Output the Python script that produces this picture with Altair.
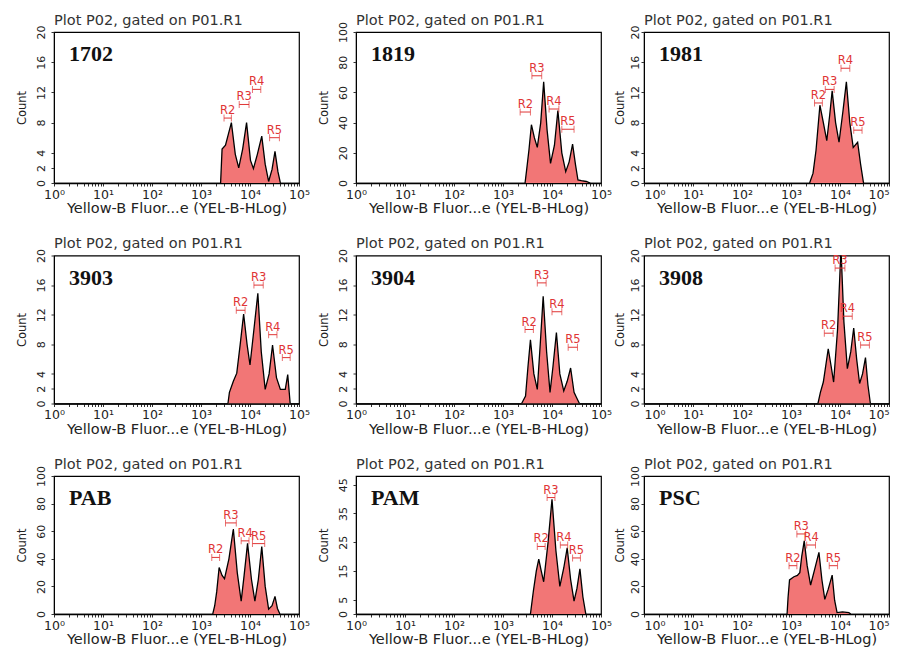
import altair as alt
import pandas as pd

NAMES = ["1702", "1819", "1981", "3903", "3904", "3908", "PAB", "PAM", "PSC"]
YMAX = [20, 100, 20, 20, 20, 20, 100, 48, 100]
YT20 = [0, 2, 4, 8, 12, 16, 20]
YT100 = [0, 20, 40, 60, 80, 100]
YT45 = [0, 5, 15, 25, 35, 45]
YTICKS = [YT20, YT100, YT20, YT20, YT20, YT20, YT100, YT45, YT100]

# log10 of fluorescence / counts
L_1702 = [3.40, 3.43, 3.50, 3.56, 3.62, 3.70, 3.77, 3.85, 3.93, 4.01, 4.07, 4.15, 4.24, 4.31, 4.38, 4.45, 4.51, 4.57, 4.62]
C_1702 = [0, 4.5, 5.0, 6.5, 8.0, 3.8, 2.0, 4.5, 8.0, 3.0, 1.9, 3.8, 6.2, 2.5, 0.2, 1.8, 4.2, 1.5, 0]
L_1819 = [3.45, 3.48, 3.53, 3.58, 3.64, 3.70, 3.77, 3.83, 3.90, 3.97, 4.05, 4.12, 4.20, 4.28, 4.35, 4.42, 4.48, 4.53, 4.60, 4.70, 4.78]
C_1819 = [0, 8, 22, 38.6, 30, 23.6, 40, 67, 35, 13, 25, 48, 20, 7.5, 14, 25.7, 12, 2, 1.5, 1, 0]
L_1981 = [3.38, 3.45, 3.51, 3.59, 3.66, 3.73, 3.79, 3.84, 3.91, 3.98, 4.06, 4.13, 4.20, 4.27, 4.36, 4.42, 4.48]
C_1981 = [0, 1.3, 4.3, 10.3, 8, 5.6, 9, 12.2, 8, 5.4, 9.5, 13.4, 8, 4.7, 5.4, 2.5, 0]
L_3903 = [3.55, 3.58, 3.66, 3.73, 3.80, 3.87, 3.94, 4.00, 4.08, 4.16, 4.23, 4.31, 4.39, 4.46, 4.54, 4.62, 4.72, 4.77, 4.82]
C_3903 = [0, 1.5, 3.0, 4.1, 8, 12.1, 8, 5.2, 10, 14.9, 7, 1.9, 4, 7.9, 3.5, 1.9, 1.9, 3.9, 0]
L_3904 = [3.38, 3.46, 3.51, 3.56, 3.63, 3.70, 3.76, 3.82, 3.89, 3.96, 4.02, 4.09, 4.16, 4.24, 4.31, 4.38, 4.45, 4.50, 4.56]
C_3904 = [0, 1.0, 5, 8.6, 4, 1.9, 8, 14.5, 7, 1.5, 5, 9.6, 4, 1.7, 3, 4.8, 1.5, 0.8, 0]
L_3908 = [3.55, 3.60, 3.66, 3.76, 3.82, 3.87, 3.95, 4.02, 4.08, 4.15, 4.22, 4.28, 4.34, 4.40, 4.46, 4.52, 4.57, 4.62]
C_3908 = [0, 1.5, 2.9, 7.4, 5, 2.9, 10, 21, 11, 4.7, 7, 10.2, 6, 2.7, 4, 6.2, 2.5, 0]
L_PAB = [3.24, 3.28, 3.32, 3.37, 3.43, 3.48, 3.57, 3.66, 3.74, 3.82, 3.88, 3.95, 4.03, 4.10, 4.17, 4.24, 4.31, 4.38, 4.45, 4.51, 4.56, 4.61]
C_PAB = [0, 6, 16, 33.7, 28, 25.6, 40, 61.6, 30, 9.3, 28, 51.2, 25, 9.3, 25, 48.8, 20, 3.5, 6, 12.8, 4, 0]
L_PAM = [3.56, 3.62, 3.68, 3.73, 3.78, 3.83, 3.92, 4.00, 4.08, 4.16, 4.24, 4.31, 4.38, 4.45, 4.51, 4.57, 4.63, 4.69]
C_PAM = [0, 8, 15, 19.1, 15, 11.2, 25, 39.9, 22, 9.6, 16, 23, 12, 4.5, 9, 15.7, 6, 0]
L_PSC = [2.92, 2.94, 2.97, 3.06, 3.13, 3.18, 3.22, 3.27, 3.33, 3.40, 3.48, 3.57, 3.63, 3.69, 3.76, 3.84, 3.89, 3.94, 4.05, 4.18, 4.22]
C_PSC = [0, 12, 24.7, 27, 28, 30, 42, 53, 35, 21, 32, 44.7, 25, 10.6, 18, 28.2, 10, 1, 1.5, 1, 0]

LOGX = [L_1702, L_1819, L_1981, L_3903, L_3904, L_3908, L_PAB, L_PAM, L_PSC]
COUNTS = [C_1702, C_1819, C_1981, C_3903, C_3904, C_3908, C_PAB, C_PAM, C_PSC]

# gates R2..R5: log10 lower edge, upper edge, count level of the marker
GATE_LABELS = ["R2", "R3", "R4", "R5"]
G_LO = [
    [3.47, 3.78, 4.05, 4.40],
    [3.35, 3.59, 3.94, 4.20],
    [3.48, 3.70, 4.02, 4.28],
    [3.72, 4.08, 4.38, 4.66],
    [3.45, 3.70, 4.00, 4.33],
    [3.68, 3.90, 4.05, 4.42],
    [3.22, 3.50, 3.82, 4.05],
    [3.70, 3.90, 4.17, 4.42],
    [2.96, 3.12, 3.32, 3.78],
]
G_HI = [
    [3.62, 3.98, 4.22, 4.60],
    [3.56, 3.79, 4.14, 4.45],
    [3.64, 3.88, 4.20, 4.45],
    [3.90, 4.27, 4.55, 4.82],
    [3.62, 3.88, 4.20, 4.52],
    [3.86, 4.10, 4.25, 4.60],
    [3.38, 3.72, 3.98, 4.30],
    [3.86, 4.06, 4.32, 4.58],
    [3.12, 3.30, 3.50, 3.95],
]
G_Y = [
    [8.6, 10.4, 12.4, 6.0],
    [47, 71, 49, 35.6],
    [10.6, 12.4, 15.2, 7.0],
    [12.6, 16.0, 9.3, 6.2],
    [10, 16.3, 12.4, 7.6],
    [9.5, 18.3, 11.8, 7.9],
    [41, 66, 53, 51],
    [23.5, 40.5, 24, 19.5],
    [35, 58, 50, 35],
]

PLOT_TITLE = "Plot P02, gated on P01.R1"
X_TITLE = "Yellow-B Fluor...e (YEL-B-HLog)"
FILL = "#f27676"
RED = "#e03535"
SANS = "DejaVu Sans"

XVALS = [m * 10 ** k for k in range(5) for m in range(1, 10)] + [100000]
SUP = "datum.value == 1 ? '10⁰' : datum.value == 10 ? '10¹' : datum.value == 100 ? '10²' : datum.value == 1000 ? '10³' : datum.value == 10000 ? '10⁴' : datum.value == 100000 ? '10⁵' : ''"

ROW_H = [151, 148, 138]
W = 245
# per column: y label padding, y title padding
Y_LPAD = [5, 5, 1]
Y_TPAD = [8, 8, 4]
# title offsets compensate for how far the top tick label pokes above the frame
T_OFF = [-3, -6.5, -3, -3, -3, -3, -6.5, 3.5, -6.5]


def panel(i):
    h = ROW_H[i // 3]
    col = i % 3
    xenc = alt.X(
        "fl:Q",
        scale=alt.Scale(type="log", domain=[1, 100000]),
        axis=alt.Axis(
            values=XVALS, labelExpr=SUP, tickSize=3, labelPadding=2, labelFontSize=12.5,
            labelFont=SANS, labelColor="#222", titleFont=SANS, titleFontSize=14.5,
            titleFontWeight="normal", titleColor="#222", titlePadding=1, grid=False,
            domainColor="black", domainWidth=1.5, tickColor="#333", labelOverlap=False,
            labelFlush=(col == 2),
        ),
        title=X_TITLE,
    )
    yenc = alt.Y(
        "count:Q",
        scale=alt.Scale(domain=[0, YMAX[i]], nice=False),
        axis=alt.Axis(
            values=YTICKS[i], labelAngle=270, tickSize=3, labelPadding=Y_LPAD[col], labelFontSize=11,
            labelFont=SANS, labelColor="#222", titleFont=SANS, titleFontSize=11.5,
            titleFontWeight="normal", titleColor="#222", titlePadding=Y_TPAD[col], grid=False,
            domainColor="black", tickColor="#333", labelOverlap=False, labelFlush=False,
        ),
        title="Count",
    )
    df = pd.DataFrame({"fl": [10 ** v for v in LOGX[i]], "count": COUNTS[i]})
    area = alt.Chart(df).mark_area(color=FILL, opacity=1, clip=True).encode(x=xenc, y=yenc)
    line = alt.Chart(df).mark_line(color="black", strokeWidth=1.3, clip=True).encode(x=xenc, y=yenc)

    gdf = pd.DataFrame({
        "label": GATE_LABELS,
        "fl": [10 ** v for v in G_LO[i]],
        "fl2": [10 ** v for v in G_HI[i]],
        "count": G_Y[i],
    })
    ends = pd.DataFrame({
        "fl": [10 ** v for v in G_LO[i]] + [10 ** v for v in G_HI[i]],
        "count": G_Y[i] * 2,
    })
    mids = pd.DataFrame({
        "label": GATE_LABELS,
        "fl": [10 ** ((a + b) / 2) for a, b in zip(G_LO[i], G_HI[i])],
        "count": G_Y[i],
    })
    bar = alt.Chart(gdf).mark_rule(color=RED, strokeWidth=1, clip=True).encode(x=xenc, x2="fl2:Q", y=yenc)
    tk = alt.Chart(ends).mark_tick(orient="vertical", size=7, thickness=1, color=RED, clip=True).encode(x=xenc, y=yenc)
    txt = alt.Chart(mids).mark_text(color=RED, fontSize=11.5, font=SANS, baseline="bottom", dy=-2).encode(
        x=xenc, y=yenc, text="label:N"
    )
    nm = alt.Chart(pd.DataFrame({"t": [NAMES[i]]})).mark_text(
        font="Liberation Serif", fontWeight="bold", fontSize=22, align="left", baseline="middle", color="#111"
    ).encode(x=alt.value(15), y=alt.value(22), text="t:N")
    return alt.layer(area, line, bar, tk, txt, nm).properties(
        width=W, height=h,
        title=alt.Title(PLOT_TITLE, anchor="start", frame="group", fontSize=14.5, fontWeight="normal",
                        font=SANS, color="#333", offset=T_OFF[i]),
    )


rows = []
for r in range(3):
    p = [panel(3 * r + c) for c in range(3)]
    rows.append(alt.hconcat(p[0], alt.hconcat(p[1], p[2], spacing=0), spacing=6))

chart = alt.vconcat(*rows, spacing=18.5).properties(
    padding={"left": 7, "top": 3, "right": 0, "bottom": 0}
).configure_view(stroke="black", strokeWidth=1.2).configure_axis(labelOverlap=False)

chart.save("out.html", embed_options={"renderer": "svg", "actions": False})
